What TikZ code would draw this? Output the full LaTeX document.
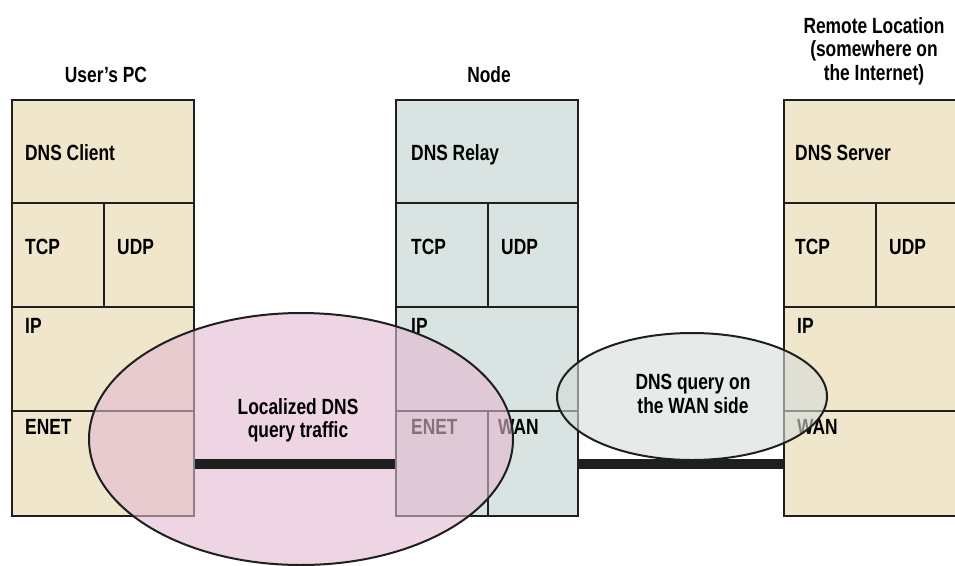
\documentclass[tikz,border=0pt]{standalone}
\usepackage{fontspec}
\setmainfont{Liberation Sans}[FakeStretch=0.79]
\usetikzlibrary{shapes.geometric}
\begin{document}
\begin{tikzpicture}[x=1pt,y=-1pt,
  cell/.style={draw=black!88,line width=2.2pt,rectangle,inner sep=0pt,anchor=north west,minimum width=#1},
  cell/.default=182pt,
  tan/.style={fill=tanfill},
  blu/.style={fill=nodefill},
  lbl/.style={anchor=base west,inner sep=0pt,font=\fontsize{22}{23}\selectfont\bfseries},
  ttl/.style={anchor=north,inner sep=0pt,align=center,font=\fontsize{22}{23.5}\selectfont\bfseries},
  link/.style={line width=10pt,draw=black!88},
  blob/.style={ellipse,draw=black!88,line width=2pt,fill opacity=0.6,inner sep=0pt}]
\definecolor{tanfill}{HTML}{EFE6CC}
\definecolor{nodefill}{HTML}{D9E3E1}
\definecolor{pinkfill}{HTML}{E3B9D0}
\definecolor{greenfill}{HTML}{D5DCD9}
\useasboundingbox (0,0) rectangle (955,565);
\clip (0,0) rectangle (955,565);
% ---------- User's PC ----------
\node[cell,tan,minimum height=103pt] (uapp) at (11,99) {};
\node[cell=92pt,tan,minimum height=104pt] (utcp) at (11,202) {};
\node[cell=90pt,tan,minimum height=104pt] (uudp) at (103,202) {};
\node[cell,tan,minimum height=104pt] (uip) at (11,306) {};
\node[cell,tan,minimum height=105pt] (uenet) at (11,410) {};
% ---------- Node ----------
\node[cell,blu,minimum height=103pt] (napp) at (395,99) {};
\node[cell=92pt,blu,minimum height=104pt] (ntcp) at (395,202) {};
\node[cell=90pt,blu,minimum height=104pt] (nudp) at (487,202) {};
\node[cell,blu,minimum height=104pt] (nip) at (395,306) {};
\node[cell=92pt,blu,minimum height=105pt] (nenet) at (395,410) {};
\node[cell=90pt,blu,minimum height=105pt] (nwan) at (487,410) {};
% ---------- Remote ----------
\node[cell,tan,minimum height=103pt] (rapp) at (783,99) {};
\node[cell=92pt,tan,minimum height=104pt] (rtcp) at (783,202) {};
\node[cell=90pt,tan,minimum height=104pt] (rudp) at (875,202) {};
\node[cell,tan,minimum height=104pt] (rip) at (783,306) {};
\node[cell,tan,minimum height=105pt] (rwan) at (783,410) {};
% ---------- titles ----------
\node[ttl,anchor=base] (tuser) at (106,82) {User’s PC};
\node[ttl,anchor=base] (tnode) at (489,82) {Node};
\node[ttl] (tremote) at (874,17) {Remote Location\\(somewhere on\\the Internet)};
% ---------- labels ----------
\node[lbl] (l1) at (25,160) {DNS Client};
\node[lbl] (l2) at (25,254) {TCP};
\node[lbl] (l3) at (117,254) {UDP};
\node[lbl] (l4) at (25,333) {IP};
\node[lbl] (l5) at (25,434) {ENET};
\node[lbl] (m1) at (411,160) {DNS Relay};
\node[lbl] (m2) at (411,254) {TCP};
\node[lbl] (m3) at (501,254) {UDP};
\node[lbl] (m4) at (411,333) {IP};
\node[lbl] (m5) at (411,434) {ENET};
\node[lbl] (m6) at (498,434) {WAN};
\node[lbl] (r1) at (795,160) {DNS Server};
\node[lbl] (r2) at (795,254) {TCP};
\node[lbl] (r3) at (889,254) {UDP};
\node[lbl] (r4) at (797,333) {IP};
\node[lbl] (r5) at (797,434) {WAN};
% ---------- links and ellipses ----------
\draw[link] (nwan.east) -- (rwan.west);
\node[blob,fill=pinkfill,minimum width=424pt,minimum height=252pt] (local) at (301,439) {};
\draw[link] (uenet.east) -- (nenet.west);
\node[blob,fill=greenfill,minimum width=270pt,minimum height=127pt] (wan) at (692,396.5) {};
\node[ttl] (tlocal) at (298,398) {Localized DNS\\query traffic};
\node[ttl] (twan) at (693,374) {DNS query on\\the WAN side};
\end{tikzpicture}
\end{document}
